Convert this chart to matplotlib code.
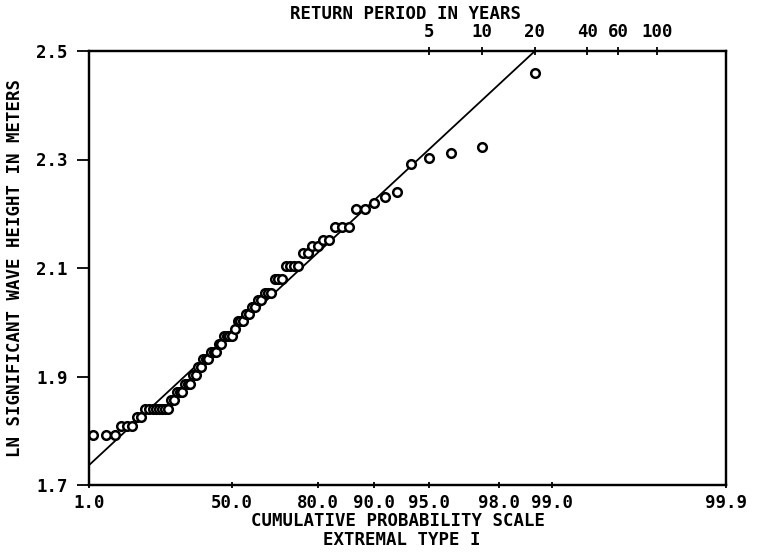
import numpy as np
import matplotlib
matplotlib.use("Agg")
import matplotlib.pyplot as plt

# Annual-storm significant wave heights (m), sorted ascending
heights_m = [
    6.0, 6.0, 6.0,
    6.1, 6.1, 6.1,
    6.2, 6.2,
    6.3, 6.3, 6.3, 6.3, 6.3, 6.3, 6.3, 6.3,
    6.4, 6.4,
    6.5, 6.5, 6.5,
    6.6, 6.6, 6.6,
    6.7, 6.7,
    6.8, 6.8,
    6.9, 6.9, 6.9,
    7.0, 7.0, 7.0,
    7.1, 7.1,
    7.2, 7.2, 7.2, 7.2,
    7.3,
    7.4, 7.4, 7.4,
    7.5, 7.5,
    7.6, 7.6,
    7.7, 7.7,
    7.8, 7.8, 7.8,
    8.0, 8.0, 8.0,
    8.2, 8.2, 8.2, 8.2,
    8.4, 8.4,
    8.5, 8.5,
    8.6, 8.6,
    8.8, 8.8, 8.8,
    9.1, 9.1,
    9.2, 9.3, 9.4,
    9.9, 10.0, 10.1, 10.2,
    11.7,
]

# Fitted Extremal Type I line: ln H = location + scale * reduced variate
fit_location = 1.934
fit_scale = 0.1293

# Axis annotations
prob_ticks = [0.01, 0.50, 0.80, 0.90, 0.95, 0.98, 0.99, 0.999]
prob_labels = ["1.0", "50.0", "80.0", "90.0", "95.0", "98.0", "99.0", "99.9"]
return_periods = [5, 10, 20, 40, 60, 100]
return_labels = ["5", "10", "20", "40", "60", "100"]
events_per_year = 4.0
y_ticks = [1.7, 1.9, 2.1, 2.3, 2.5]
y_labels = ["1.7", "1.9", "2.1", "2.3", "2.5"]


def gumbel_variate(p):
    p = np.asarray(p, dtype=float)
    return -np.log(-np.log(p))


FONT = dict(family="DejaVu Sans Mono", weight="bold", size=12.5)

n = len(heights_m)
rank = np.arange(1, n + 1)
plot_prob = rank / (n + 1.0)
x_pts = gumbel_variate(plot_prob)
y_pts = np.log(heights_m)

W, H = 760, 555
fig = plt.figure(figsize=(W / 100, H / 100), dpi=100)
left, right, top, bottom = 89, 726, 51, 485
ax = fig.add_axes([left / W, 1 - bottom / H, (right - left) / W, (bottom - top) / H])

x_lo = float(gumbel_variate(prob_ticks[0]))
x_hi = float(gumbel_variate(prob_ticks[-1]))
ax.set_xlim(x_lo, x_hi)
ax.set_ylim(y_ticks[0], y_ticks[-1])

# fitted line across the whole probability range (clipped at the frame)
x_line = np.array([x_lo, x_hi])
ax.plot(x_line, fit_location + fit_scale * x_line, color="black", lw=1.3)

# observations
ax.plot(x_pts, y_pts, linestyle="none", marker="o", markersize=6.2,
        markerfacecolor="white", markeredgecolor="black", markeredgewidth=1.8)

ax.set_xticks(gumbel_variate(prob_ticks))
ax.set_xticklabels(prob_labels, fontdict=FONT)
ax.set_yticks(y_ticks)
ax.set_yticklabels(y_labels, fontdict=FONT)
ax.tick_params(axis="x", direction="inout", length=5, width=1.3, pad=4)
ax.tick_params(axis="y", direction="out", length=8.5, width=1.3, pad=7)

for s in ax.spines.values():
    s.set_linewidth(1.6)

# return period scale on top
top_ax = ax.twiny()
top_ax.set_xlim(ax.get_xlim())
rp = np.array(return_periods, dtype=float)
top_ax.set_xticks(gumbel_variate(1.0 - 1.0 / (events_per_year * rp)))
top_ax.set_xticklabels(return_labels, fontdict=FONT)
top_ax.tick_params(axis="x", direction="inout", length=6, width=1.3, pad=4)
for s in top_ax.spines.values():
    s.set_linewidth(1.6)

fig.text(406 / W, 1 - 14 / H, "RETURN PERIOD IN YEARS", ha="center", va="center", **FONT)
fig.text(15 / W, 1 - 268 / H, "LN SIGNIFICANT WAVE HEIGHT IN METERS",
         ha="center", va="center", rotation=90, **FONT)
fig.text(398 / W, 1 - 521 / H, "CUMULATIVE PROBABILITY SCALE", ha="center", va="center", **FONT)
fig.text(402 / W, 1 - 540 / H, "EXTREMAL TYPE I", ha="center", va="center", **FONT)

fig.savefig("out.png", dpi=100)
